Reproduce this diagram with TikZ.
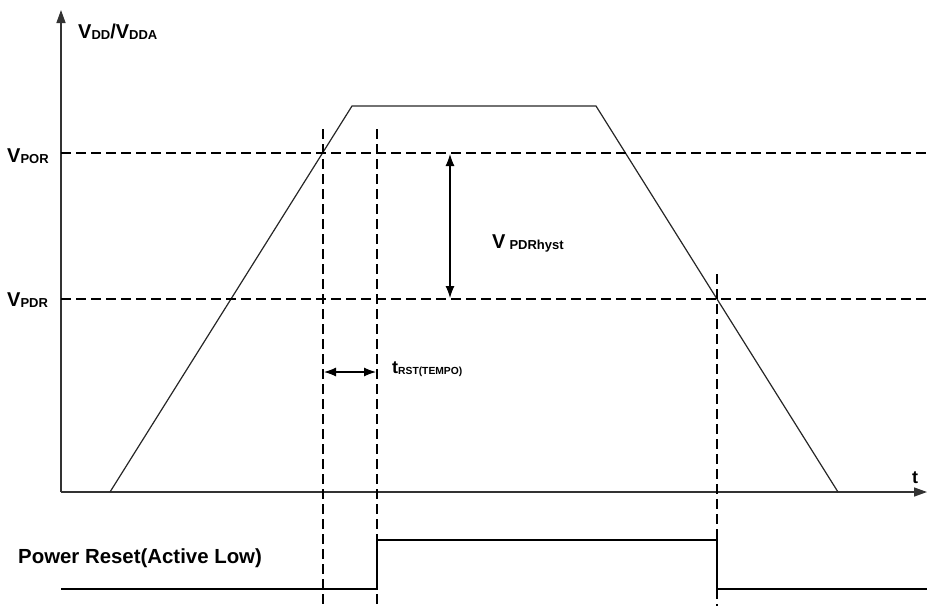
\documentclass[tikz,border=0pt]{standalone}
\usepackage{fontspec}
\setmainfont{Liberation Sans}
\usetikzlibrary{arrows.meta}
\tikzset{
  axis/.style={line width=1.4pt, draw=black!80, -{Triangle[length=13pt,width=9pt]}},
  wave/.style={line width=1.2pt, draw=black!85},
  level/.style={line width=2.6pt, dash pattern=on 10pt off 5pt},
  dim/.style={line width=1.1pt, {Latex[length=12pt,width=9pt]}-{Latex[length=12pt,width=9pt]}},
  lbl/.style={inner sep=0pt, font=\bfseries}
}
\newcommand{\bigV}{\fontsize{20}{20}\selectfont V}
\newcommand{\subtxt}[2]{\raisebox{-1pt}{\fontsize{#1}{#1}\selectfont #2}}
\begin{document}
\begin{tikzpicture}[x=1pt,y=-1pt]
\useasboundingbox (0,0) rectangle (927,606);
% axes
\coordinate (O) at (61,492);
\coordinate (ytip) at (61,10);
\coordinate (xtip) at (927,492);
\draw[axis] (O) -- (ytip);
\draw[axis] (O) -- (xtip);
% trapezoid
\coordinate (a) at (110,492);
\coordinate (b) at (352,106);
\coordinate (c) at (596,106);
\coordinate (d) at (838,492);
\draw[wave] (a) -- (b) -- (c) -- (d);
% levels
\coordinate (por0) at (61,153);
\coordinate (por1) at (927,153);
\coordinate (pdr0) at (61,299);
\coordinate (pdr1) at (927,299);
\draw[level] (por0) -- (por1);
\draw[level] (pdr0) -- (pdr1);
% vertical markers
\coordinate (v1t) at (323,129); \coordinate (v1b) at (323,606);
\coordinate (v2t) at (377,129); \coordinate (v2b) at (377,606);
\coordinate (v3t) at (717,274); \coordinate (v3b) at (717,606);
% reset signal
\coordinate (r0) at (61,589);
\coordinate (r1) at (377,589);
\coordinate (r2) at (377,540);
\coordinate (r3) at (717,540);
\coordinate (r4) at (717,589);
\coordinate (r5) at (927,589);
\draw[wave, line width=1.3pt, draw=black] (r0) -- (r1) -- (r2) -- (r3) -- (r4) -- (r5);
\draw[level] (v1t) -- (v1b);
\draw[level] (v2t) -- (v2b);
\draw[level] (v3t) -- (v3b);
% dimension arrows
\coordinate (h1) at (450,154);
\coordinate (h2) at (450,298);
\draw[dim] (h1) -- (h2);
\coordinate (t1) at (324,372);
\coordinate (t2) at (376,372);
\draw[dim] (t1) -- (t2);
% labels
\node[lbl, anchor=base west] (vdd) at (78,38) {\bigV\subtxt{13}{DD}\fontsize{20}{20}\selectfont/\bigV\subtxt{13}{DDA}};
\node[lbl, anchor=base west] (vpor) at (7,162) {\bigV\subtxt{13}{POR}};
\node[lbl, anchor=base west] (vpdr) at (7,306) {\bigV\subtxt{13}{PDR}};
\node[lbl, anchor=base west] (vhyst) at (492,248) {\bigV\hspace{4pt}\subtxt{13}{PDRhyst}};
\node[lbl, anchor=base west] (trst) at (392,373) {\fontsize{18}{18}\selectfont t\subtxt{10.3}{RST(TEMPO)}};
\node[lbl, anchor=base west] (tl) at (912,483) {\fontsize{18}{18}\selectfont t};
\node[lbl, anchor=base west] (pr) at (18,563) {\fontsize{20.4}{21}\selectfont Power Reset(Active Low)};
\end{tikzpicture}
\end{document}
